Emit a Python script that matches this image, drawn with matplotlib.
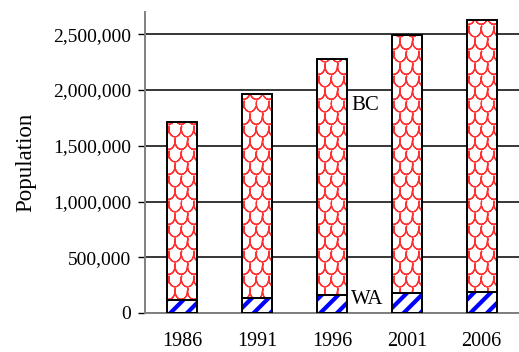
import numpy as np
import matplotlib
matplotlib.use('Agg')
import matplotlib.pyplot as plt
import matplotlib.hatch as mhatch
from matplotlib.ticker import FuncFormatter

years = ['1986', '1991', '1996', '2001', '2006']
wa = [116000, 131000, 161000, 175000, 188000]
total = [1710000, 1965000, 2283000, 2492000, 2625000]
bc = [t - w for t, w in zip(total, wa)]


class Scales(mhatch.HatchPatternBase):
    # fish-scale pattern, hooked on '*' (stars are dropped)
    def __init__(self, hatch, density):
        self.n = 8 * hatch.count('*')
        self.pts = 12
        # each arc goes there and back so it has no area to fill
        self.num_vertices = self.n * (self.n + 1) * self.pts * 2 if self.n else 0

    def set_vertices_and_codes(self, vertices, codes):
        n = self.n
        r = 0.5 / n
        t = np.linspace(np.pi * 0.9, np.pi * 2.0, self.pts)
        t = np.concatenate([t, t[::-1]])
        m = len(t)
        k = 0
        for row in range(n):
            cy = (row + 0.7) / n
            off = 0.5 if row % 2 else 0.0
            for col in range(n + 1):
                cx = (col + 0.5 - off) / n
                vertices[k:k + m, 0] = cx + r * np.cos(t)
                vertices[k:k + m, 1] = cy + 1.3 * r * np.sin(t)
                codes[k] = mhatch.Path.MOVETO
                codes[k + 1:k + m] = mhatch.Path.LINETO
                k += m


mhatch._hatch_types = [h for h in mhatch._hatch_types if h is not mhatch.Stars] + [Scales]

plt.rcParams['font.family'] = ['Liberation Serif', 'DejaVu Serif']
fig = plt.figure(figsize=(5.19, 3.52), dpi=100)
ax = fig.add_axes([0.2794, 0.1108, 0.7206, 0.855])

x = np.arange(len(years))
w = 0.4

plt.rcParams['hatch.linewidth'] = 3.0
b1 = ax.bar(x, wa, w, color='white', edgecolor='#0000ff', hatch='//', linewidth=0, zorder=2)
plt.rcParams['hatch.linewidth'] = 0.9
b2 = ax.bar(x, bc, w, bottom=wa, color='white', edgecolor='#ff3030', hatch='*', linewidth=0, zorder=2)
for b in b1:
    if hasattr(b, 'set_hatch_linewidth'):
        b.set_hatch_linewidth(3.0)
for b in b2:
    if hasattr(b, 'set_hatch_linewidth'):
        b.set_hatch_linewidth(0.9)
# outlines
ax.bar(x, wa, w, color='none', edgecolor='black', linewidth=1.4, zorder=3)
ax.bar(x, bc, w, bottom=wa, color='none', edgecolor='black', linewidth=1.4, zorder=3)

ax.text(2.26, 1860000, 'BC', fontsize=15, ha='left', va='center')
ax.text(2.26, 117000, 'WA', fontsize=15, ha='left', va='center')

ax.set_xlim(-0.5, 4.5)
ax.set_ylim(0, 2700000)
ax.set_yticks(np.arange(0, 2500001, 500000))
ax.yaxis.set_major_formatter(FuncFormatter(lambda v, p: '{:,.0f}'.format(v)))
ax.set_xticks(x)
ax.set_xticklabels(years)
ax.tick_params(axis='x', length=0, pad=14, labelsize=14.5)
ax.tick_params(axis='y', length=5, width=1, pad=5, labelsize=14, direction='out')
ax.set_ylabel('Population', fontsize=16.5, labelpad=12)

ax.grid(axis='y', color='black', linewidth=1.1)
ax.set_axisbelow(True)
for s in ['top', 'right']:
    ax.spines[s].set_visible(False)
ax.spines['left'].set_color('#808080')
ax.spines['left'].set_linewidth(1.4)
ax.spines['bottom'].set_color('#808080')
ax.spines['bottom'].set_linewidth(1.4)

fig.savefig('out.png', dpi=100)
